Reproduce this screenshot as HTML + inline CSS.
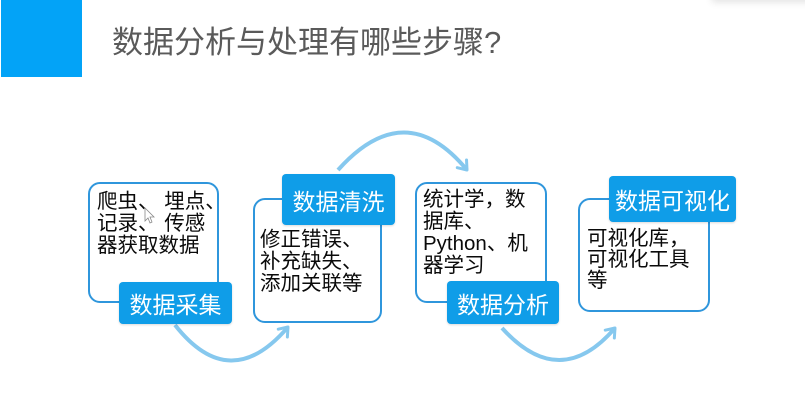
<!DOCTYPE html>
<html><head><meta charset="utf-8"><style>
html,body{margin:0;padding:0;background:#fff;}
body{width:805px;height:411px;position:relative;overflow:hidden;font-family:"Liberation Sans","Noto Sans CJK SC",sans-serif;}
.blk{position:absolute;left:1px;top:0;width:81px;height:77px;background:#03a3f7;}
.title{position:absolute;left:112px;top:27px;font-size:31px;line-height:32px;color:#5a5a5a;white-space:nowrap;}
.shadow{position:absolute;left:712px;top:-14px;width:110px;height:14px;background:#fff;box-shadow:0 2px 8px rgba(0,0,0,0.12);}
.box{position:absolute;box-sizing:border-box;border:2.5px solid #2f96dc;border-radius:12px;background:#fff;}
.lbl{position:absolute;box-sizing:border-box;background:#0f9de8;border-radius:4px;color:#fff;font-size:23px;display:flex;align-items:center;justify-content:center;white-space:nowrap;box-shadow:0 1px 2px rgba(0,0,0,0.15);}
.txt{position:absolute;font-size:20.5px;line-height:22px;color:#0a0a0a;white-space:nowrap;}
svg{position:absolute;left:0;top:0;}
</style></head><body>
<div class="blk"></div>
<div class="shadow"></div>
<div class="title">数据分析与处理有哪些步骤?</div>

<svg width="805" height="411" viewBox="0 0 805 411">
<defs>
<marker id="ah" markerUnits="userSpaceOnUse" viewBox="-12 -9 14 18" refX="0" refY="0" markerWidth="14" markerHeight="18" orient="auto">
<path d="M-8,-6 L0,0 L-8,6" fill="none" stroke="#86c8ee" stroke-width="3" stroke-linecap="round" stroke-linejoin="round"/>
</marker>
</defs>
<path d="M175,325 Q230,395 288,327" fill="none" stroke="#86c8ee" stroke-width="4" marker-end="url(#ah)"/>
<path d="M338,170 Q405,95 467,170" fill="none" stroke="#86c8ee" stroke-width="4" marker-end="url(#ah)"/>
<path d="M502,328 Q560,392 615,328" fill="none" stroke="#86c8ee" stroke-width="4" marker-end="url(#ah)"/>
</svg>

<div class="box" style="left:88px;top:182px;width:131px;height:121px;"></div>
<div class="box" style="left:253px;top:198px;width:129px;height:125px;"></div>
<div class="box" style="left:415px;top:182px;width:132px;height:121px;"></div>
<div class="box" style="left:578px;top:198px;width:132px;height:114px;"></div>

<div class="txt" style="left:97px;top:191px;">爬虫、&nbsp;埋点、<br>记录、&nbsp;传感<br>器获取数据</div>
<svg width="805" height="411" viewBox="0 0 805 411" style="pointer-events:none">
<path d="M145,208 L145,221 L148,218 L150,223 L152,222 L150,217 L154,217 Z" fill="#fff" stroke="#888" stroke-width="0.8"/>
</svg>
<div class="txt" style="left:260px;top:229px;">修正错误、<br>补充缺失、<br>添加关联等</div>
<div class="txt" style="left:423px;top:189px;">统计学，数<br>据库、<br>Python、机<br>器学习</div>
<div class="txt" style="left:587px;top:228px;line-height:21px;">可视化库，<br>可视化工具<br>等</div>

<div class="lbl" style="left:119px;top:282px;width:113px;height:42px;">数据采集</div>
<div class="lbl" style="left:282px;top:174px;width:113px;height:51px;">数据清洗</div>
<div class="lbl" style="left:447px;top:281px;width:112px;height:43px;">数据分析</div>
<div class="lbl" style="left:609px;top:176px;width:127px;height:46px;">数据可视化</div>
</body></html>
